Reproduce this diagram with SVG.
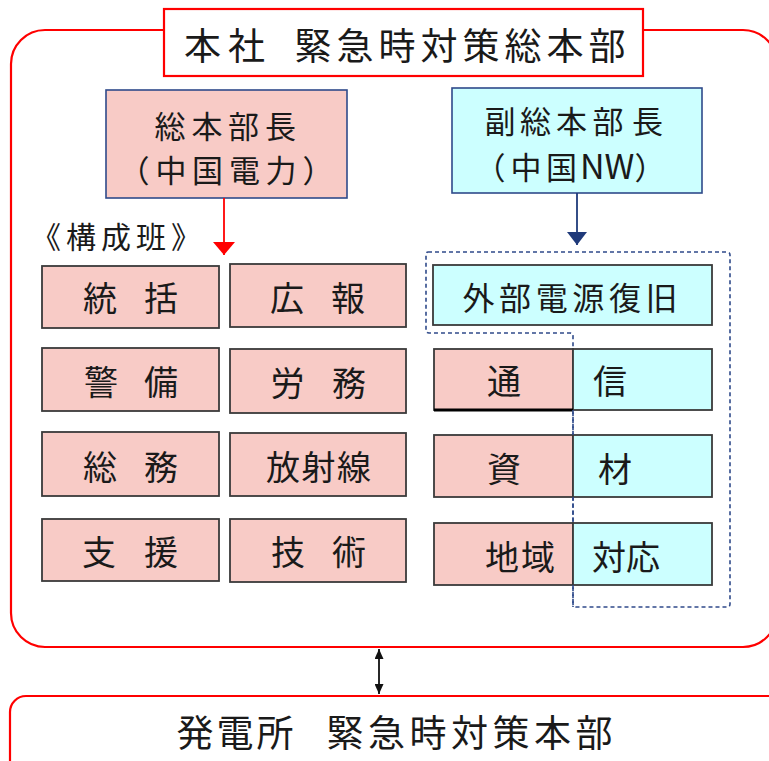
<svg xmlns="http://www.w3.org/2000/svg" width="769" height="761" viewBox="0 0 769 761">
<defs>
<style>
text{font-family:"Noto Sans CJK JP","Noto Sans",sans-serif;fill:#1a1a1a;}
.t36{font-size:37px;text-anchor:middle;}
.t37{font-size:37px;text-anchor:middle;}
.t31{font-size:31px;text-anchor:middle;}
.t32{font-size:32px;text-anchor:middle;}
.t34{font-size:34px;text-anchor:middle;}
.frame{fill:none;stroke:#ff0000;stroke-width:2.2;}
.pink{fill:#f8cbc6;stroke:#3a3a3a;stroke-width:1.8;}
.cyan{fill:#ccffff;stroke:#3a3a3a;stroke-width:1.8;}
.pinkN{fill:#f8cbc6;stroke:#2f4a8a;stroke-width:1.6;}
.cyanN{fill:#ccffff;stroke:#2f4a8a;stroke-width:1.6;}
</style>
<marker id="hRed" markerUnits="userSpaceOnUse" markerWidth="13" markerHeight="22" refX="13" refY="11" orient="auto" viewBox="0 0 13 22">
<path d="M0,0 L13,11 L0,22 z" fill="#ff0000"/>
</marker>
<marker id="hNavy" markerUnits="userSpaceOnUse" markerWidth="13" markerHeight="20" refX="13" refY="10" orient="auto" viewBox="0 0 13 20">
<path d="M0,0 L13,10 L0,20 z" fill="#1f3a7a"/>
</marker>
<marker id="hBlk" markerUnits="userSpaceOnUse" markerWidth="10" markerHeight="9" refX="10" refY="4.5" orient="auto-start-reverse" viewBox="0 0 10 9">
<path d="M0,0 L10,4.5 L0,9 z" fill="#111"/>
</marker>
</defs>

<g id="hq-frame">
<rect class="frame" x="11" y="30" width="766" height="617" rx="34"/>
</g>

<g id="hq-title">
<rect x="164" y="9" width="479" height="67" fill="#fff" stroke="#ff0000" stroke-width="2.2"/>
<text class="t36" x="202.5 246.5 280 313 355 397 439 481 523 565 607" y="60">本社　緊急時対策総本部</text>
</g>

<g id="chief">
<rect class="pinkN" x="106" y="90" width="241" height="108"/>
<text class="t31" x="170 207 243.5 280.5" y="138">総本部長</text>
<text class="t31" x="134 171 207.5 244.5 281 318" y="182">（中国電力）</text>
</g>

<g id="vice-chief">
<rect class="cyanN" x="452" y="88" width="250" height="105"/>
<text class="t31" x="500 535.5 571.5 608 647.5" y="133">副総本部長</text>
<text style="font-size:31px" x="474.5 510.5 546 580" y="179">（中国<tspan style="font-size:34px">NW</tspan>）</text>
</g>

<g id="team-label">
<text style="font-size:30px;letter-spacing:5px" x="31" y="248">《構成班》</text>
</g>

<g id="dashed-region">
<path d="M428,252 H727 Q730,252 730,255 V604 Q730,607 727,607 H576 Q573,607 573,604 V336 Q573,333 570,333 H429 Q426,333 426,330 V255 Q426,252 428,252 Z" fill="none" stroke="#2f4a8a" stroke-width="1.6" stroke-dasharray="4 3"/>
</g>

<g id="n-toukatsu">
<rect class="pink" x="42" y="266" width="177" height="62"/>
<text class="t34" x="100 130.5 161" y="311">統　括</text>
</g>
<g id="n-kouhou">
<rect class="pink" x="230" y="264" width="176" height="63"/>
<text class="t34" x="287 318 348" y="311">広　報</text>
</g>
<g id="n-keibi">
<rect class="pink" x="42" y="348" width="177" height="63"/>
<text class="t34" x="101 131 161" y="395">警　備</text>
</g>
<g id="n-roumu">
<rect class="pink" x="230" y="349" width="176" height="64"/>
<text class="t34" x="287.5 318 349" y="396">労　務</text>
</g>
<g id="n-soumu">
<rect class="pink" x="42" y="432" width="177" height="64"/>
<text class="t34" x="100 130.5 161" y="480">総　務</text>
</g>
<g id="n-houshasen">
<rect class="pink" x="230" y="433" width="176" height="63"/>
<text class="t34" x="283 318.5 354" y="480">放射線</text>
</g>
<g id="n-shien">
<rect class="pink" x="42" y="519" width="177" height="62"/>
<text class="t34" x="99 130 161" y="565">支　援</text>
</g>
<g id="n-gijutsu">
<rect class="pink" x="230" y="519" width="176" height="63"/>
<text class="t34" x="288 318.5 349" y="565">技　術</text>
</g>

<g id="n-gaibudengen">
<rect class="cyan" x="433" y="265" width="279" height="60"/>
<text class="t32" x="478.5 515 551.7 588.3 624.9 661.5" y="309.5">外部電源復旧</text>
</g>

<g id="n-tsushin">
<rect class="pink" x="434" y="349" width="139" height="61"/>
<rect class="cyan" x="573" y="349" width="139" height="61"/>
<line x1="434" y1="410" x2="573" y2="410" stroke="#000" stroke-width="3"/>
<text class="t34" x="504" y="394">通</text>
<text class="t34" x="610" y="394">信</text>
</g>
<g id="n-shizai">
<rect class="pink" x="434" y="435" width="139" height="62"/>
<rect class="cyan" x="573" y="435" width="139" height="62"/>
<text class="t34" x="504" y="482">資</text>
<text class="t34" x="615" y="482">材</text>
</g>
<g id="n-chiiki">
<rect class="pink" x="434" y="523" width="139" height="62"/>
<rect class="cyan" x="573" y="523" width="139" height="62"/>
<text class="t34" x="502 538" y="570">地域</text>
<text class="t34" x="609 643" y="570">対応</text>
</g>

<g id="dashed-overlay">
<line x1="573" y1="410" x2="573" y2="435" stroke="#2f4a8a" stroke-width="1.6" stroke-dasharray="4 3"/>
<line x1="573" y1="497" x2="573" y2="523" stroke="#2f4a8a" stroke-width="1.6" stroke-dasharray="4 3"/>
<line x1="573" y1="585" x2="573" y2="607" stroke="#2f4a8a" stroke-width="1.6" stroke-dasharray="4 3"/>
</g>

<g id="plant">
<rect class="frame" x="10" y="696" width="790" height="120" rx="16"/>
<text class="t37" x="195 235 275 310 345 386.5 428 469.5 511 552.5 594" y="746.5">発電所　緊急時対策本部</text>
</g>

<g id="connectors">
<line x1="224" y1="198" x2="224" y2="255" stroke="#ff0000" stroke-width="1.8" marker-end="url(#hRed)"/>
<line x1="577" y1="193" x2="577" y2="245" stroke="#1f3a7a" stroke-width="1.8" marker-end="url(#hNavy)"/>
<line x1="379" y1="649" x2="379" y2="694" stroke="#111" stroke-width="1.8" marker-start="url(#hBlk)" marker-end="url(#hBlk)"/>
</g>
</svg>
